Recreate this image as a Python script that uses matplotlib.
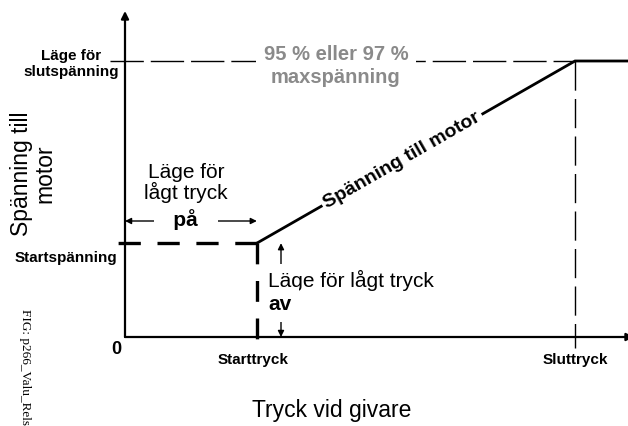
import matplotlib
matplotlib.use('Agg')
import matplotlib.pyplot as plt
import numpy as np

plt.rcParams['font.family'] = ['Liberation Sans', 'DejaVu Sans']
plt.rcParams['lines.scale_dashes'] = False

# ---- data (normalised pressure / voltage) ----
x_tick_labels = ['Starttryck', 'Sluttryck']
y_tick_labels = ['Startspänning', 'Läge för\nslutspänning']
start_pressure = 0.293
end_pressure = 1.0
start_voltage = 0.34
end_voltage = 1.0
x_max = 1.14
curve_x = [start_pressure, end_pressure, x_max]
curve_y = [start_voltage, end_voltage, end_voltage]

fig = plt.figure(figsize=(6.28, 4.26), dpi=100)
ax = fig.add_axes([0, 0, 1, 1])
ax.set_xlim(-125 / 450, 503 / 450)
ax.set_ylim(-89 / 276, 337 / 276)
ax.axis('off')


def X(px):
    return (px - 125) / 450


def Y(py):
    return (337 - py) / 276


k = 'black'
# axes with arrows
ax.annotate('', xy=(0, Y(11)), xytext=(0, 0), annotation_clip=False,
            arrowprops=dict(arrowstyle='-|>', lw=1.6, color=k, mutation_scale=11,
                            shrinkA=0, shrinkB=0), zorder=3)
ax.annotate('', xy=(X(634), 0), xytext=(0, 0), annotation_clip=False,
            arrowprops=dict(arrowstyle='-|>', lw=1.6, color=k, mutation_scale=11,
                            shrinkA=0, shrinkB=0), zorder=3)

# thin dashed guide lines to end values
ax.plot([X(110), end_pressure], [end_voltage, end_voltage], color=k, lw=1.0,
        dashes=(24, 5), zorder=1)
ax.plot([end_pressure, end_pressure], [end_voltage, Y(348)], color=k, lw=1.0,
        dashes=(21, 6), zorder=1)

# thick dashed guide lines to start values
ax.plot([start_pressure, X(118)], [start_voltage, start_voltage], color=k, lw=2.4,
        dashes=(16, 12), solid_capstyle='butt', zorder=2)
ax.plot([start_pressure, start_pressure], [start_voltage, Y(345)], color=k, lw=2.4,
        dashes=(15, 12), zorder=2)

# voltage curve
ax.plot(curve_x, curve_y, color=k, lw=2.0, solid_joinstyle='miter', zorder=4)

# curve label along line
p1 = ax.transData.transform((start_pressure, start_voltage))
p2 = ax.transData.transform((end_pressure, end_voltage))
rot = np.degrees(np.arctan2(p2[1] - p1[1], p2[0] - p1[0]))
xc = X(402)
yc = start_voltage + (xc - start_pressure) * (end_voltage - start_voltage) / (end_pressure - start_pressure)
ax.text(xc, yc, 'Spänning till motor', rotation=rot, rotation_mode='anchor',
        ha='center', va='center', fontsize=14, fontweight='bold',
        bbox=dict(boxstyle='square,pad=0.15', fc='white', ec='none'), zorder=5)

# grey max text
ax.text(X(336), Y(66), '95 % eller 97 %\nmaxspänning', ha='center', va='center',
        multialignment='center', fontsize=14.5, fontweight='bold', color='#8a8a8a',
        linespacing=1.3,
        bbox=dict(boxstyle='square,pad=0.4', fc='white', ec='none'), zorder=5)

# low pressure "på" annotation
ax.text(X(186), Y(183), 'Läge för\nlågt tryck', ha='center', va='center',
        fontsize=15, linespacing=1.0, zorder=5)
ax.annotate('', xy=(0, Y(221)), xytext=(start_pressure, Y(221)),
            arrowprops=dict(arrowstyle='<|-|>', lw=1.0, color=k, mutation_scale=9,
                            shrinkA=0, shrinkB=0), zorder=3)
ax.text(X(186), Y(220), '   på   ', ha='center', va='center', fontsize=15,
        fontweight='bold',
        bbox=dict(boxstyle='square,pad=0.1', fc='white', ec='none'), zorder=5)

# low pressure "av" annotation
ax.annotate('', xy=(X(281), start_voltage), xytext=(X(281), 0),
            arrowprops=dict(arrowstyle='<|-|>', lw=1.0, color=k, mutation_scale=9,
                            shrinkA=0, shrinkB=0), zorder=3)
ax.text(X(268), Y(280), 'Läge för lågt tryck', ha='left', va='center', fontsize=15,
        bbox=dict(boxstyle='square,pad=0.25', fc='white', ec='none'), zorder=5)
ax.text(X(268), Y(305), 'av', ha='left', va='center', fontsize=15, fontweight='bold',
        bbox=dict(boxstyle='square,pad=0.35', fc='white', ec='none'), zorder=5)

# tick labels
ax.text(X(71), Y(64), y_tick_labels[1], ha='center', va='center',
        multialignment='center', fontsize=11, fontweight='bold', linespacing=1.1)
ax.text(X(66), Y(258), y_tick_labels[0], ha='center', va='center',
        fontsize=11, fontweight='bold')
ax.text(X(116), Y(349), '0', ha='center', va='center', fontsize=13, fontweight='bold')
ax.text(start_pressure - 0.008, Y(360), x_tick_labels[0], ha='center', va='center',
        fontsize=11, fontweight='bold')
ax.text(end_pressure, Y(360), x_tick_labels[1], ha='center', va='center',
        fontsize=11, fontweight='bold')

# axis titles
ax.text(X(33), Y(174), 'Spänning till\nmotor', rotation=90, ha='center', va='center',
        multialignment='center', fontsize=16.5, linespacing=1.0)
ax.text(X(332), Y(411), 'Tryck vid givare', ha='center', va='center', fontsize=16.5)

# figure id
ax.text(X(25), Y(309), 'FIG: p266_Valu_Rels', rotation=-90, ha='center', va='top',
        family=['Liberation Serif', 'DejaVu Serif'], fontsize=9.5)

fig.savefig('out.png', dpi=100)
